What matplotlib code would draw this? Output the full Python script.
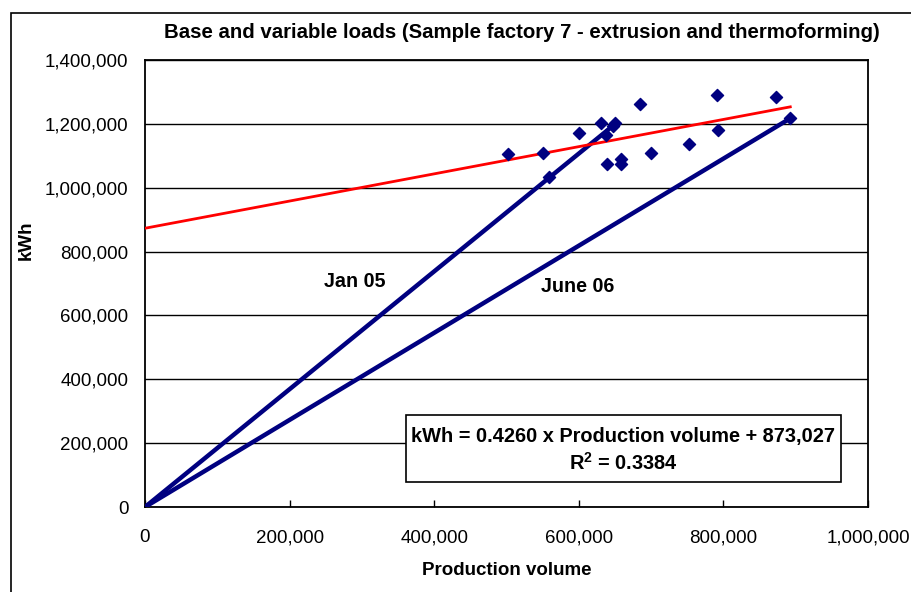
import matplotlib
matplotlib.use("Agg")
from matplotlib import pyplot as plt
from matplotlib.patches import Rectangle
from matplotlib.ticker import FuncFormatter, MultipleLocator

plt.rcParams['font.family'] = ['Liberation Sans', 'DejaVu Sans']
plt.rcParams['mathtext.fontset'] = 'custom'
plt.rcParams['mathtext.bf'] = 'Liberation Sans:bold'
plt.rcParams['mathtext.rm'] = 'Liberation Sans'

# monthly points, Jan 05 .. June 06
production = [501700, 550100, 558800, 600300, 630700, 649700, 647300, 637200, 638600,
              658400, 658400, 685100, 699900, 752800, 791100, 793000, 873200, 892500]
kwh = [1105500, 1109600, 1034400, 1170400, 1203600, 1203600, 1194200, 1165000, 1075200,
       1089900, 1074200, 1261200, 1109600, 1136900, 1290300, 1179800, 1285000, 1217300]

jan05 = (647300, 1194200)
june06 = (892500, 1217300)

slope = 0.4260
intercept = 873027
r2 = 0.3384

fig = plt.figure(figsize=(9.11, 5.92), dpi=100)
ax = fig.add_axes([145 / 911, 85 / 592, 723 / 911, 447 / 592])

# outer chart border (cut off on the right and bottom)
fig.patches.append(Rectangle((11 / 911, -0.1), 1.2, 1.1 - 13 / 592, transform=fig.transFigure,
                             fill=False, edgecolor='black', linewidth=1.2, clip_on=False))

ax.set_xlim(0, 1000000)
ax.set_ylim(0, 1400000)
ax.yaxis.set_major_locator(MultipleLocator(200000))
ax.xaxis.set_major_locator(MultipleLocator(200000))
fmt = FuncFormatter(lambda v, p: f"{v:,.0f}")
ax.xaxis.set_major_formatter(fmt)
ax.yaxis.set_major_formatter(fmt)
ax.grid(axis='y', color='black', linewidth=1.0)
ax.set_axisbelow(True)
ax.tick_params(axis='x', direction='in', length=5, width=1, pad=16, labelsize=13.5)
ax.tick_params(axis='y', length=0, pad=12, labelsize=13.5)
for s in ax.spines.values():
    s.set_linewidth(1.3)

ax.plot([0, jan05[0]], [0, jan05[1]], color='#000080', linewidth=3.2, solid_capstyle='butt', zorder=3)
ax.plot([0, june06[0]], [0, june06[1]], color='#000080', linewidth=3.2, solid_capstyle='butt', zorder=3)
xmax = max(production)
ax.plot([0, xmax], [intercept, intercept + slope * xmax], color='red', linewidth=2, zorder=4)
ax.scatter(production, kwh, marker='D', s=38, color='#000080', zorder=5, clip_on=False)

ax.text(290500, 704700, 'Jan 05', fontsize=14.2, fontweight='bold', ha='center', va='center')
ax.text(598000, 690000, 'June 06', fontsize=14.2, fontweight='bold', ha='center', va='center')

ax.add_patch(Rectangle((0.3606, 0.0553), 0.6017, 0.1506, transform=ax.transAxes,
                       facecolor='white', edgecolor='black', linewidth=1.2, zorder=6))
ax.text(0.6614, 0.157, f'kWh = {slope:.4f} x Production volume + {intercept:,}',
        transform=ax.transAxes, fontsize=14.4, fontweight='bold', ha='center', va='center', zorder=7)
ax.text(0.6614, 0.0978, r'R$^{\mathbf{2}}$' + f' = {r2:.4f}', transform=ax.transAxes, fontsize=14.4,
        fontweight='bold', ha='center', va='center', zorder=7)

fig.text(521.7 / 911, 1 - 32 / 592, 'Base and variable loads (Sample factory 7 - extrusion and thermoforming)',
         fontsize=14.7, fontweight='bold', ha='center', va='center')
fig.text(26 / 911, 1 - 240 / 592, 'kWh', fontsize=13.5, fontweight='bold', rotation=90,
         ha='center', va='center')
fig.text(506.5 / 911, 1 - 570.7 / 592, 'Production volume', fontsize=13.5, fontweight='bold',
         ha='center', va='center')

fig.savefig('out.png', dpi=100)
